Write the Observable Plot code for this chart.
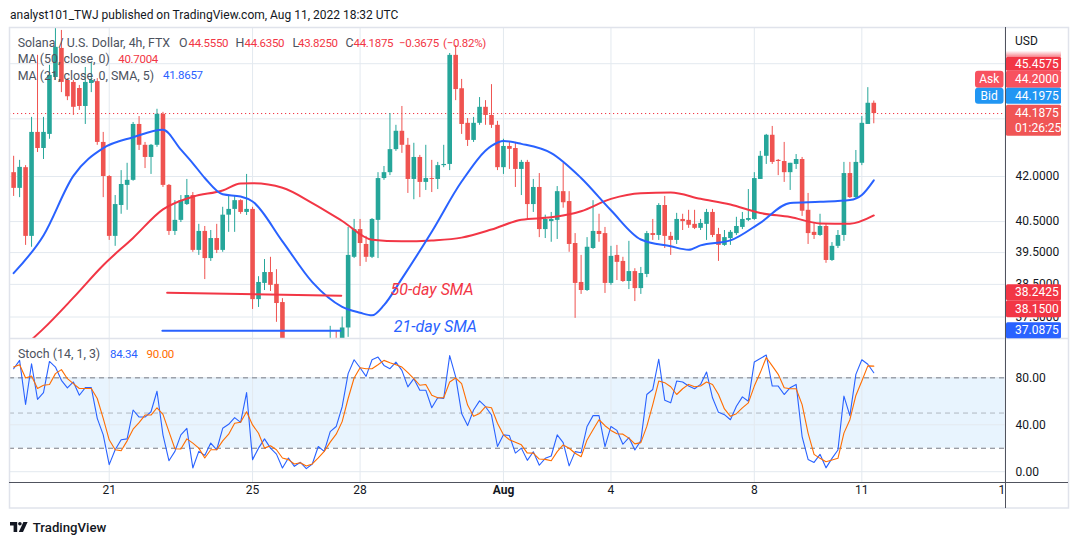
<!DOCTYPE html>
<html>
<head>
<meta charset="utf-8">
<script src="https://cdn.jsdelivr.net/npm/d3@7"></script>
<script src="https://cdn.jsdelivr.net/npm/@observablehq/plot@0.6"></script>
<style>
  html, body { margin: 0; padding: 0; background: #ffffff; }
  #root { position: relative; width: 1079px; height: 545px; overflow: hidden; font-family: Roboto, "Liberation Sans", sans-serif; }
  #root svg { position: absolute; left: 0; }
</style>
</head>
<body>
<div id="root"></div>
<script>
// ---------------- DATA (SOL/USD, 4h bars from Jul 18 08:00 to Aug 11 08:00) ----------------
const openP = [42.13,41.60,42.30,40.02,43.52,42.96,43.45,45.49,46.57,45.38,
45.31,45.09,44.44,45.27,45.34,43.17,42.00,40.02,41.03,41.70,
41.87,43.80,43.07,42.65,43.07,44.16,41.70,40.18,40.54,41.06,
41.36,39.57,40.18,39.31,39.95,39.57,40.71,40.90,41.19,40.80,
40.90,38.03,38.53,38.87,38.50,37.94,36.60,36.10,36.30,36.45,
36.20,36.40,36.25,36.40,36.70,36.55,37.17,39.35,40.24,39.76,
39.35,40.54,41.93,42.13,42.92,43.56,43.07,41.90,42.65,41.80,
41.93,41.90,42.37,42.41,46.31,45.08,43.84,43.24,43.84,44.41,
44.12,43.77,42.30,43.03,42.96,42.24,42.48,41.06,41.63,40.24,
40.50,40.54,41.49,41.16,39.79,38.56,38.31,39.63,40.18,40.11,
38.53,39.41,39.22,38.59,38.90,38.37,38.81,40.11,40.05,41.03,
40.02,39.89,40.57,40.54,40.41,40.28,40.41,40.80,40.08,39.73,
39.95,40.11,40.31,40.54,40.57,41.90,42.69,43.42,42.55,42.51,
42.13,42.41,42.58,40.87,40.15,40.05,40.34,39.25,39.70,40.05,
42.10,41.29,42.45,43.80,44.555];
const highP = [42.69,42.55,42.37,44.05,46.31,44.05,45.94,47.36,47.25,45.45,
45.38,45.20,45.86,46.05,45.45,43.52,42.03,41.36,42.20,42.45,
43.87,44.08,43.17,43.10,44.34,44.23,41.73,41.19,41.36,41.90,
41.46,40.41,40.34,40.21,40.41,40.97,41.36,41.36,41.22,42.07,
40.97,38.74,39.28,39.35,38.96,38.06,36.75,36.50,36.70,36.72,
36.60,36.70,36.65,37.22,37.08,37.50,40.31,40.57,40.57,40.02,
40.60,42.13,42.34,44.19,43.77,44.44,43.31,43.14,42.72,43.07,
42.55,42.48,43.07,46.38,46.68,45.42,44.01,44.05,44.76,44.65,
45.23,43.91,43.28,43.17,43.17,42.55,42.55,41.90,42.10,40.71,
40.80,41.66,42.45,41.49,40.11,39.41,39.98,41.19,40.74,40.31,
39.70,39.73,39.35,39.86,38.99,39.03,40.18,40.57,41.09,41.33,
40.15,40.77,40.74,40.87,40.87,40.57,40.90,40.90,40.28,40.21,
40.21,40.64,40.80,41.56,42.13,42.86,43.45,43.73,42.58,43.17,
42.45,42.75,42.65,41.43,40.47,40.74,40.41,39.82,40.21,42.48,
42.48,42.89,44.08,45.12,44.635];
const lowP = [41.33,41.29,39.73,39.67,42.82,42.58,43.28,45.38,44.94,44.65,
44.12,44.30,43.80,44.94,43.07,41.29,39.89,39.70,40.74,40.87,
41.84,42.89,42.27,42.07,43.00,41.63,40.05,40.05,40.47,41.03,
39.51,39.41,38.65,39.22,39.47,39.51,40.15,40.15,40.74,40.70,
37.73,37.79,38.31,38.28,37.34,36.30,35.90,35.80,36.00,36.05,
35.95,36.10,35.90,36.20,36.30,36.45,36.89,39.31,39.06,39.19,
39.31,39.31,41.87,42.03,42.86,42.79,41.43,41.22,41.29,41.53,
41.46,41.56,42.30,42.20,44.65,43.45,43.03,43.17,43.77,43.77,
43.66,42.20,42.07,42.24,41.63,41.36,40.57,40.80,39.98,39.95,
39.83,39.92,40.94,39.51,37.46,38.19,38.28,39.60,39.83,38.22,
38.47,38.62,38.56,38.34,37.97,38.19,38.71,39.89,39.89,39.63,
39.41,39.76,40.21,40.28,40.24,40.21,39.89,39.98,39.22,39.70,
39.73,40.05,40.24,40.50,40.54,41.90,42.41,42.41,42.03,41.80,
41.53,42.24,40.67,39.76,39.92,40.02,39.16,39.22,39.63,39.86,
41.26,41.26,42.37,43.80,43.825];
const closeP = [41.60,42.31,40.02,43.52,42.96,43.52,45.57,46.61,45.31,44.79,
44.41,44.44,45.31,45.38,43.17,42.00,40.02,41.06,41.73,41.87,
43.80,43.07,42.65,43.07,44.16,41.70,40.18,40.54,41.19,41.36,
39.57,40.18,39.31,39.95,39.57,40.71,40.90,41.19,40.80,40.90,
38.03,38.56,38.87,38.47,37.91,36.60,36.10,36.30,36.45,36.20,
36.40,36.25,36.40,36.70,36.55,37.17,39.41,40.24,39.79,39.35,
40.57,41.93,42.13,42.92,43.56,43.07,41.90,42.65,41.80,41.93,
41.90,42.37,42.41,46.31,45.05,43.80,43.24,43.84,44.41,44.12,
43.77,42.30,43.03,42.93,42.24,42.48,41.06,41.63,40.24,40.57,
40.57,41.49,41.12,39.76,38.53,38.31,39.67,40.18,40.08,38.53,
39.38,39.19,38.59,38.90,38.37,38.84,40.11,40.05,41.03,40.02,
39.89,40.57,40.50,40.38,40.28,40.44,40.80,40.05,39.73,39.98,
40.15,40.34,40.57,40.60,41.93,42.69,43.42,42.48,42.51,42.13,
42.45,42.58,40.84,40.11,40.05,40.34,39.25,39.70,40.05,42.10,
41.29,42.48,43.84,44.555,44.1875];

// Moving averages read at sampled bars (bar index, value)
const ma21Bars = [0,5,10,15,20,25,28,30,32,35,38,40,45,50,55,58,60,62,65,70,75,80,82,85,90,95,100,105,110,113,115,120,125,130,135,140,142,144];
const ma21Vals = [38.85,40.05,42.02,42.97,43.35,43.61,42.92,42.45,41.95,41.40,41.33,41.16,39.86,38.57,37.81,37.63,37.55,37.86,38.68,40.17,41.83,43.05,43.22,43.12,42.80,41.95,40.87,39.92,39.70,39.59,39.73,39.89,40.46,41.11,41.15,41.21,41.38,41.87];
const ma50Bars = [0,3,5,10,15,20,25,30,35,38,40,45,50,55,60,65,70,75,80,85,90,95,100,105,110,115,120,125,130,135,140,144];
const ma50Vals = [36.35,36.82,37.15,38.09,39.10,39.97,40.90,41.32,41.53,41.76,41.77,41.62,41.11,40.52,39.91,39.86,39.89,39.98,40.24,40.56,40.64,40.84,41.25,41.44,41.46,41.25,41.06,40.78,40.65,40.44,40.43,40.70];

// Stochastic (14,1,3): %K and %D per bar
const stochK = [87.8,94.9,57.3,92.0,61.6,67.5,94.0,89.2,77.9,71.4,
76.5,65.2,71.7,71.7,45.5,31.4,6.0,18.7,27.2,28.0,
52.6,46.6,46.6,51.1,68.6,31.4,9.4,17.3,31.4,37.0,
3.2,17.3,13.9,24.4,18.7,37.0,40.4,46.1,42.1,67.5,
10.3,20.1,28.0,20.1,15.0,3.2,11.7,4.6,8.0,2.6,
6.6,21.5,17.3,34.2,38.5,55.4,83.6,95.4,88.6,81.3,
95.4,97.7,90.6,87.8,93.4,86.4,72.3,79.3,69.5,69.5,
54.5,63.0,62.4,99.0,80.8,49.7,39.3,52.6,60.4,55.4,
48.3,21.5,31.4,30.8,15.9,20.1,9.7,17.0,5.5,11.4,
13.4,31.4,24.8,5.0,17.1,16.2,38.6,47.8,47.8,21.4,
38.6,35.2,23.4,29.1,18.5,26.5,65.8,70.1,95.9,61.0,
58.7,77.3,76.4,73.0,70.7,74.4,85.0,63.0,50.6,48.6,
44.3,55.8,63.8,60.1,93.6,96.5,99.5,73.0,73.0,65.8,
71.6,74.4,30.0,10.5,7.9,14.8,3.3,11.4,18.5,64.4,
47.8,83.0,95.4,91.6,84.34];
const stochD = [89.2,91.2,79.9,81.6,70.9,73.7,74.3,83.6,87.0,79.3,
75.1,70.9,70.9,70.9,62.4,45.5,27.2,18.7,17.9,26.3,
36.2,41.8,48.3,48.3,54.5,48.9,34.2,19.6,19.3,28.0,
24.4,20.1,11.7,18.7,18.7,26.3,32.0,41.3,42.1,51.1,
39.9,32.8,20.1,22.1,18.7,11.7,10.3,6.6,7.7,4.9,
6.6,11.7,17.3,25.2,32.0,42.7,62.4,79.9,88.6,87.8,
87.8,91.2,94.9,92.9,91.2,89.2,84.4,79.3,73.7,74.3,
65.2,63.0,63.0,76.5,79.9,75.1,56.8,47.2,49.7,55.4,
54.5,41.3,31.4,27.2,25.2,22.9,15.9,15.8,10.8,10.5,
9.3,17.1,22.8,20.0,15.7,12.8,27.1,35.7,44.3,39.2,
35.2,32.3,32.0,28.6,23.7,24.8,38.6,57.2,77.3,75.9,
72.4,65.8,70.7,74.4,72.4,73.0,76.4,74.4,65.8,53.5,
47.2,49.5,54.4,58.7,73.0,84.5,97.4,90.2,83.0,71.6,
70.7,70.7,57.2,32.9,14.8,11.4,8.5,9.9,11.4,32.9,
44.3,65.0,77.3,90.2,90.00];

// Drawn support lines (bar index start/end, price start/end) and their captions
const sma50LineBars = [25.7, 54.85];
const sma50LineVals = [38.2425, 38.15];
const sma21LineBars = [24.9, 54.7];
const sma21LineVals = [37.0875, 37.0875];
const captionTexts = ["50-day SMA", "21-day SMA"];
const captionBars = [63.1, 63.65];
const captionVals = [38.32, 37.20];

// Axis ticks and labels
const priceTicks = [37.5, 38.5, 39.5, 40.5, 42, 44, 46];
const priceTickLabels = [37.5, 38.5, 39.5, 40.5, 42];
const tickDates = [Date.UTC(2022,6,21), Date.UTC(2022,6,25), Date.UTC(2022,6,28), Date.UTC(2022,7,1),
                   Date.UTC(2022,7,4), Date.UTC(2022,7,8), Date.UTC(2022,7,11), Date.UTC(2022,7,15)].map(d => new Date(d));
const tickLabels = ["21", "25", "28", "Aug", "4", "8", "11", "15"];
const stochTicks = [0, 40, 80];
const stochBand = [20, 80];
const stochMid = 50;

// Price labels on the right scale
const lastPrice = 44.1875;
const askPrice = 44.2000;
const bidPrice = 44.1975;
const highMark = 45.4575;
const sma50Mark = [38.2425, 38.1500];
const sma21Mark = 37.0875;
const countdown = "01:26:25";

// ---------------- RENDER ----------------
const root = document.getElementById("root");
const barStart = Date.UTC(2022, 6, 18, 8);
const H4 = 4 * 3600 * 1000;
const barTime = i => new Date(barStart + i * H4);
const xDomain = [new Date(Date.UTC(2022, 6, 18, 5, 14)), new Date(Date.UTC(2022, 7, 15, 0, 12))];

const gridColor = "#e3e9ef";
const up = "#26a69a", dn = "#ef5350";
const baseStyle = {background: "transparent", fontFamily: "Roboto, 'Liberation Sans', sans-serif", fontSize: "12px", color: "#131722", overflow: "visible"};

const candles = openP.map((o, i) => ({t: barTime(i), o, h: highP[i], l: lowP[i], c: closeP[i]}));
const col = d => d.c >= d.o ? up : dn;
const bodyEnd = d => Math.abs(d.c - d.o) < 0.03 ? d.o + (d.c >= d.o ? 0.03 : -0.03) : d.c;
const ma21 = ma21Bars.map((b, i) => ({t: barTime(b), v: ma21Vals[i]}));
const ma50 = ma50Bars.map((b, i) => ({t: barTime(b), v: ma50Vals[i]}));
const line50 = sma50LineBars.map((b, i) => ({t: barTime(b), v: sma50LineVals[i]}));
const line21 = sma21LineBars.map((b, i) => ({t: barTime(b), v: sma21LineVals[i]}));
const captions = captionTexts.map((s, i) => ({s, t: barTime(captionBars[i]), v: captionVals[i], c: i === 0 ? "#f23645" : "#2962ff"}));
const f4 = d3.format(".4f");

const priceChart = Plot.plot({
  width: 1079, height: 311,
  marginLeft: 9, marginRight: 74, marginTop: 0, marginBottom: 0,
  style: baseStyle,
  x: {type: "utc", domain: xDomain, axis: null},
  y: {type: "log", domain: [36.856, 47.3625], axis: null},
  marks: [
    Plot.ruleY(priceTicks, {stroke: gridColor}),
    Plot.ruleX(tickDates, {stroke: gridColor}),
    Plot.ruleY([lastPrice], {stroke: "#f23645", strokeDasharray: "1.2,2.8", strokeWidth: 1}),
    Plot.ruleX(candles, {x: "t", y1: "l", y2: "h", stroke: col, strokeWidth: 1, clip: true}),
    Plot.ruleX(candles, {x: "t", y1: "o", y2: bodyEnd, stroke: col, strokeWidth: 4.6, clip: true}),
    Plot.line(ma50, {x: "t", y: "v", stroke: "#f23645", strokeWidth: 2, curve: "monotone-x", clip: true}),
    Plot.line(ma21, {x: "t", y: "v", stroke: "#2962ff", strokeWidth: 2, curve: "monotone-x", clip: true}),
    Plot.line(line50, {x: "t", y: "v", stroke: "#f23645", strokeWidth: 2}),
    Plot.line(line21, {x: "t", y: "v", stroke: "#2962ff", strokeWidth: 2}),
    Plot.text(captions, {x: "t", y: "v", text: "s", fill: "c", fontSize: 16, fontStyle: "italic", textAnchor: "start"}),
    Plot.text(priceTickLabels, {y: d => d, text: d => f4(d), frameAnchor: "right", textAnchor: "start", dx: 10, fontSize: 12, fill: "#131722"})
  ]
});
priceChart.style.top = "27px";
root.appendChild(priceChart);

const stochRows = stochK.map((k, i) => ({t: barTime(i), k, d: stochD[i]}));
const isMonth = s => isNaN(+s);
const stochChart = Plot.plot({
  width: 1079, height: 170,
  marginLeft: 9, marginRight: 74, marginTop: 0, marginBottom: 26,
  style: baseStyle,
  x: {type: "utc", domain: xDomain, axis: null},
  y: {domain: [-9.2, 113.55], axis: null},
  marks: [
    Plot.areaY(xDomain, {x: d => d, y1: stochBand[0], y2: stochBand[1], fill: "#2196f3", fillOpacity: 0.1}),
    Plot.ruleY(stochTicks, {stroke: gridColor}),
    Plot.ruleX(tickDates, {stroke: gridColor}),
    Plot.ruleY(stochBand, {stroke: "#787b86", strokeDasharray: "5,4"}),
    Plot.ruleY([stochMid], {stroke: "#787b86", strokeOpacity: 0.5, strokeDasharray: "5,4"}),
    Plot.line(stochRows, {x: "t", y: "k", stroke: "#2962ff", strokeWidth: 1.1}),
    Plot.line(stochRows, {x: "t", y: "d", stroke: "#ff6d00", strokeWidth: 1.1}),
    Plot.text(stochTicks, {y: d => d, text: d => d3.format(".2f")(d), frameAnchor: "right", textAnchor: "start", dx: 10, fontSize: 12, fill: "#131722"}),
    Plot.text(tickDates, {x: d => d, text: (d, i) => tickLabels[i], filter: (d, i) => !isMonth(tickLabels[i]), frameAnchor: "bottom", dy: 11.5, fontSize: 12, fill: "#131722"}),
    Plot.text(tickDates, {x: d => d, text: (d, i) => tickLabels[i], filter: (d, i) => isMonth(tickLabels[i]), frameAnchor: "bottom", dy: 11.5, fontSize: 12, fontWeight: "bold", fill: "#131722"})
  ]
});
stochChart.style.top = "338px";
root.appendChild(stochChart);

// ---------------- overlay: frame, legends, price labels ----------------
const ov = d3.select(root).append("svg").attr("width", 1079).attr("height", 545).style("top", "0px").style("pointer-events", "none");
const FF = "Roboto, 'Liberation Sans', sans-serif";
function txt(x, y, s, o = {}) {
  return ov.append("text").attr("x", x).attr("y", y).attr("dy", "0.35em")
    .attr("font-family", FF).attr("font-size", o.size || 12).attr("fill", o.fill || "#131722")
    .attr("font-weight", o.weight || null).attr("text-anchor", o.anchor || "start")
    .attr("letter-spacing", o.ls || null).text(s);
}

// cover the clipped part of the last time label, then frame lines
ov.append("rect").attr("x", 1006).attr("y", 483).attr("width", 62).attr("height", 24).attr("fill", "#fff");
ov.append("rect").attr("x", 9.5).attr("y", 27.5).attr("width", 1059).attr("height", 480.5).attr("fill", "none").attr("stroke", "#e0e3eb").attr("stroke-width", 1.5);
ov.append("line").attr("x1", 9).attr("x2", 1068).attr("y1", 338.5).attr("y2", 338.5).attr("stroke", "#e0e3eb").attr("stroke-width", 1.5);
ov.append("line").attr("x1", 9).attr("x2", 1068).attr("y1", 482.5).attr("y2", 482.5).attr("stroke", "#50535e").attr("stroke-width", 1);
ov.append("line").attr("x1", 1005.5).attr("x2", 1005.5).attr("y1", 27).attr("y2", 508).attr("stroke", "#50535e").attr("stroke-width", 1);

// header
txt(10, 15, "analyst101_TWJ published on TradingView.com, Aug 11, 2022 18:32 UTC", {size: 12});

// price legend
const legG = "#4c525e", red = "#f23645", blue = "#2962ff";
txt(17.7, 42.7, "Solana / U.S. Dollar, 4h, FTX", {size: 12.4, fill: legG});
[["O", 179, "44.5550", 188.5], ["H", 235.5, "44.6350", 244.5], ["L", 292.5, "43.8250", 298], ["C", 345.5, "44.1875", 353.5]].forEach(([k, kx, v, vx]) => {
  txt(kx, 42.7, k, {size: 12.4, fill: legG});
  txt(vx, 42.7, v, {size: 11.5, fill: red, ls: -0.3});
});
txt(399, 42.7, "\u22120.3675", {size: 11.5, fill: red, ls: -0.3});
txt(443, 42.7, "(\u22120.82%)", {size: 11.5, fill: red, ls: -0.3});
txt(17.7, 59, "MA (50, close, 0)", {size: 12.4, fill: legG});
txt(118.3, 59, "40.7004", {size: 11.5, fill: red, ls: -0.3});
txt(17.7, 75.3, "MA (21, close, 0, SMA, 5)", {size: 12.4, fill: legG});
txt(163, 75.3, "41.8657", {size: 11.5, fill: blue, ls: -0.3});

// stoch legend
txt(18, 353.5, "Stoch (14, 1, 3)", {size: 12.4, fill: legG});
txt(110, 353.5, "84.34", {size: 11.5, fill: blue, ls: -0.3});
txt(146.6, 353.5, "90.00", {size: 11.5, fill: "#ff6d00", ls: -0.3});

// price scale labels
txt(1015, 40.7, "USD", {size: 12});
const yS = priceChart.scale("y");
const PY = v => 27 + yS.apply(v);
function box(top, h, fill, lines) {
  ov.append("rect").attr("x", 1006).attr("y", top).attr("width", 55).attr("height", h).attr("rx", 1.5).attr("fill", fill);
  lines.forEach((s, i) => txt(1015, top + h / (2 * lines.length) + i * (h / lines.length), s, {size: 12, fill: "#ffffff"}));
}
function pill(top, h, fill, s) {
  ov.append("rect").attr("x", 975).attr("y", top).attr("width", 28.5).attr("height", h).attr("rx", 3).attr("fill", fill);
  txt(989.2, top + h / 2, s, {size: 12, fill: "#ffffff", anchor: "middle"});
}
const lastTop = PY(lastPrice) - 8.3;
const bidTop = lastTop - 17;
const askTop = bidTop - 17;
const highTop = Math.min(PY(highMark) - 7, askTop - 14);
const grad = ov.append("defs").append("linearGradient").attr("id", "hg").attr("x1", 0).attr("y1", 1).attr("x2", 0).attr("y2", 0);
grad.append("stop").attr("offset", 0).attr("stop-color", "#f23645").attr("stop-opacity", 0.6);
grad.append("stop").attr("offset", 1).attr("stop-color", "#f23645").attr("stop-opacity", 0);
ov.append("rect").attr("x", 1006).attr("y", highTop - 6).attr("width", 55).attr("height", 6).attr("fill", "url(#hg)");
box(highTop, 14, "#f23645", [f4(highMark)]);
box(askTop, 17, "#f7525f", [f4(askPrice)]);
pill(askTop, 17, "#f7525f", "Ask");
box(bidTop, 16, "#2196f3", [f4(bidPrice)]);
pill(bidTop, 16, "#2196f3", "Bid");
box(lastTop, 31, "#f05555", [f4(lastPrice), countdown]);
const s1Top = PY(sma50Mark[0]) - 8;
box(s1Top, 16, "#f23645", [f4(sma50Mark[0])]);
const s2Top = Math.max(PY(sma50Mark[1]) - 8, s1Top + 16);
box(s2Top, 17, "#f23645", [f4(sma50Mark[1])]);
box(PY(sma21Mark) - 8, 16, "#2962ff", [f4(sma21Mark)]);

// TradingView footer logo
const lg = ov.append("g").attr("transform", "translate(10,522)").attr("fill", "#131722");
lg.append("path").attr("d", "M0 0 H7.2 V10 H3.6 V3.4 H0 Z");
lg.append("circle").attr("cx", 9.9).attr("cy", 1.8).attr("r", 1.8);
lg.append("path").attr("d", "M13.4 0 H17.6 L13 10 H8.8 Z");
txt(32.8, 527, "TradingView", {size: 13.2, weight: 500});
</script>
</body>
</html>
